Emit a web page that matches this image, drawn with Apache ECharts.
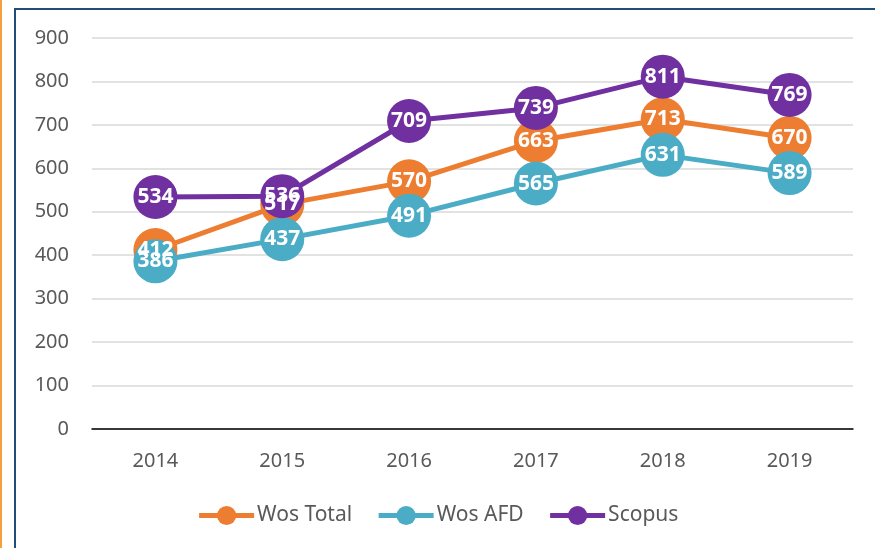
<!DOCTYPE html>
<html>
<head>
<meta charset="utf-8">
<script src="https://cdn.jsdelivr.net/npm/echarts@6/dist/echarts.min.js"></script>
<style>
  html, body { margin: 0; padding: 0; background: #fff; }
  #chart { width: 875px; height: 548px; }
</style>
</head>
<body>
<div id="chart"></div>
<script>
// chart data
const years = ["2014", "2015", "2016", "2017", "2018", "2019"];
const wosTotal = [412, 517, 570, 663, 713, 670];
const wosAfd = [386, 437, 491, 565, 631, 589];
const scopus = [534, 536, 709, 739, 811, 769];
const yTicks = [0, 100, 200, 300, 400, 500, 600, 700, 800, 900];

const font = "Noto Sans";
const textColor = "#595959";

function makeSeries(name, data, color) {
  return {
    name: name,
    type: "line",
    data: data,
    symbol: "circle",
    symbolSize: 44,
    lineStyle: { color: color, width: 5 },
    itemStyle: { color: color },
    label: {
      show: true,
      position: "inside",
      color: "#fff",
      fontFamily: font,
      fontWeight: "bold",
      fontSize: 21
    },
    emphasis: { disabled: true },
    animation: false
  };
}

const chart = echarts.init(document.getElementById("chart"));
chart.setOption({
  backgroundColor: "#fff",
  textStyle: { fontFamily: font },
  grid: { left: 92, right: 22, top: 38, bottom: 119 },
  graphic: [
    // frame lines
    { type: "rect", shape: { x: 0, y: 0, width: 2, height: 548 }, style: { fill: "#F4A040" } },
    { type: "rect", shape: { x: 14, y: 8, width: 861, height: 2 }, style: { fill: "#1F4E79" } },
    { type: "rect", shape: { x: 14, y: 8, width: 2, height: 540 }, style: { fill: "#1F4E79" } }
  ],
  legend: {
    top: 500,
    left: "center",
    itemWidth: 55,
    itemHeight: 24,
    itemGap: 24,
    lineStyle: { width: 5 },
    textStyle: { color: textColor, fontSize: 21, fontFamily: font, padding: [0, 0, 0, -2] },
    data: ["Wos Total", "Wos AFD", "Scopus"]
  },
  xAxis: {
    type: "category",
    data: years,
    boundaryGap: true,
    axisLine: { lineStyle: { color: "#000", width: 1.5 } },
    axisTick: { show: false },
    axisLabel: { color: textColor, fontSize: 20, margin: 22, fontFamily: font }
  },
  yAxis: {
    type: "value",
    min: yTicks[0],
    max: yTicks[yTicks.length - 1],
    interval: 100,
    axisLine: { show: false },
    axisTick: { show: false },
    axisLabel: { color: textColor, fontSize: 20, margin: 23, fontFamily: font },
    splitLine: { lineStyle: { color: "#D9D9D9", width: 1.5 } }
  },
  series: [
    makeSeries("Wos Total", wosTotal, "#ED7D31"),
    makeSeries("Wos AFD", wosAfd, "#4BACC6"),
    makeSeries("Scopus", scopus, "#7030A0")
  ]
});
</script>
</body>
</html>
